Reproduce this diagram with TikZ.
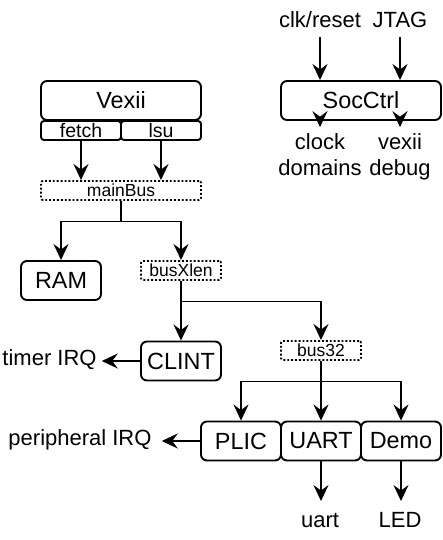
\documentclass[tikz,border=0pt]{standalone}
\usepackage{fontspec}
\setmainfont{Liberation Sans}
\usetikzlibrary{arrows.meta}

\begin{document}
\begin{tikzpicture}[x=1pt, y=-1pt,
        blk/.style={draw, rounded corners=6pt, line width=1.9pt, inner sep=0pt, minimum width=80pt, minimum height=39pt, font=\fontsize{23.4}{28}\selectfont},
        port/.style={draw, rounded corners=3pt, line width=1.9pt, inner sep=0pt, minimum width=80pt, minimum height=19pt, font=\fontsize{19.5}{22}\selectfont},
        bus/.style={draw, dotted, line width=1.9pt, rounded corners=2pt, inner sep=0pt, minimum width=80pt, minimum height=19pt, font=\fontsize{17.5}{20}\selectfont},
        lbl/.style={inner sep=0pt, anchor=base, align=center, font=\fontsize{22}{26}\selectfont},
        flow/.style={line width=1.9pt, -{Stealth[length=16pt, width=15pt, inset=5.5pt]}}]
        \useasboundingbox (0,0) rectangle (442,540);

        % CPU side
        \node[blk, minimum width=160pt] (vexii) at (121,100.5) {Vexii};
        \node[port] (fetch) at (81,130.5) {fetch};
        \node[port] (lsu) at (161,130.5) {lsu};
        \node[bus, minimum width=160pt] (mainbus) at (121,190.5) {mainBus};
        \node[blk] (ram) at (61,280.5) {RAM};
        \node[bus] (busxlen) at (181,270.5) {busXlen};
        \node[blk] (clint) at (181,361) {CLINT};
        \node[bus] (bus32) at (321,350.5) {bus32};
        \node[lbl] (timerirq) at (49.5,365) {timer IRQ};

        % peripherals
        \node[blk] (plic) at (241,441) {PLIC};
        \node[blk] (uart) at (321,441) {UART};
        \node[blk] (demo) at (401,441) {Demo};
        \node[lbl] (periirq) at (80,445) {peripheral IRQ};
        \node[lbl] (uartpin) at (320,527.5) {uart};
        \node[lbl] (ledpin) at (400,527.5) {LED};

        % control
        \node[blk, minimum width=160pt] (socctrl) at (361,100.5) {SocCtrl};
        \node[lbl] (clkrst) at (320,27.7) {clk/reset};
        \node[lbl] (jtag) at (400,27.7) {JTAG};
        \node[lbl] (clkdom) at (320,175.3) {clock\\domains};
        \node[lbl] (vexdbg) at (400,175.3) {vexii\\debug};

        \draw[flow] (fetch) -- (mainbus.north -| fetch);
        \draw[flow] (lsu) -- (mainbus.north -| lsu);
        \draw[flow] (mainbus.south) -- ++(0,20.5) -| (ram.north);
        \draw[flow] (mainbus.south) -- ++(0,20.5) -| (busxlen.north);
        \draw[flow] (busxlen) -- (clint);
        \draw[flow] (busxlen.south) -- ++(0,20.5) -| (bus32.north);
        \draw[flow] (clint) -- ([xshift=5pt]timerirq.east |- clint);
        \draw[flow] (bus32.south) -- ++(0,20.5) -| (plic.north);
        \draw[flow] (bus32.south) -- ++(0,20.5) -| (uart.north);
        \draw[flow] (bus32.south) -- ++(0,20.5) -| (demo.north);
        \draw[flow] (plic) -- ([xshift=10pt]periirq.east |- plic);
        \draw[flow] (uart) -- ([yshift=12pt]uartpin.north -| uart);
        \draw[flow] (demo) -- ([yshift=12pt]uartpin.north -| demo);
        \draw[flow] ([yshift=-9pt]clkrst.south) -- (clkrst |- socctrl.north);
        \draw[flow] ([yshift=-9pt]jtag.south) -- (jtag |- socctrl.north);
        \draw[flow] (socctrl.south -| clkdom) -- ([yshift=6pt]clkdom.north);
        \draw[flow] (socctrl.south -| vexdbg) -- ([yshift=6pt]clkdom.north -| vexdbg);
\end{tikzpicture}
\end{document}
